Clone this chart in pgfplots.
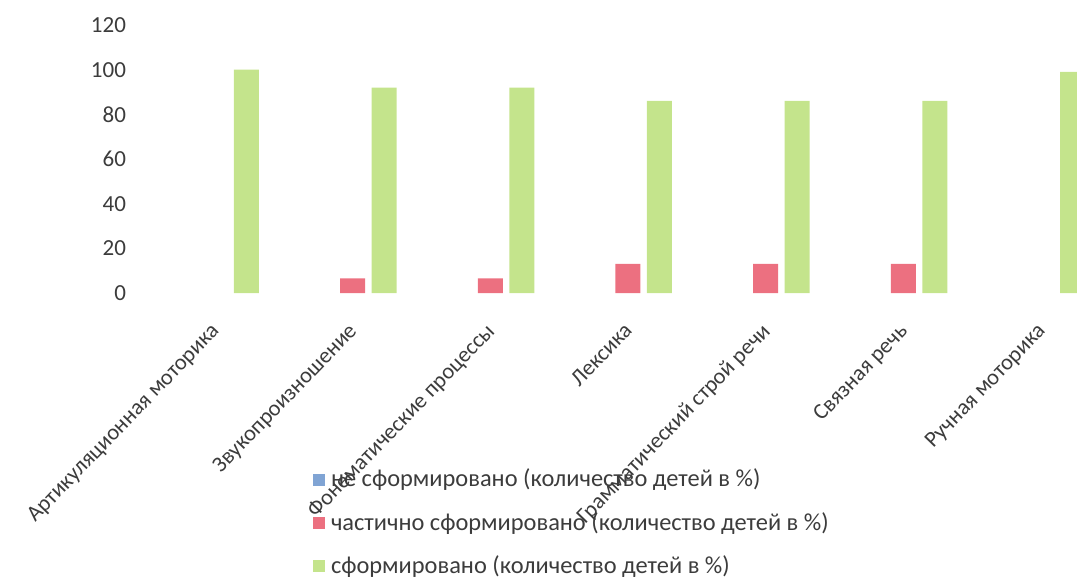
\documentclass[border=0pt]{standalone}
\usepackage{pgfplots}
\pgfplotsset{compat=1.18}
\usepackage{fontspec}
\setmainfont{Carlito}
\definecolor{cblue}{RGB}{128,164,212}
\definecolor{cred}{RGB}{236,112,128}
\definecolor{cgreen}{RGB}{196,228,140}
\definecolor{ctext}{RGB}{60,60,60}
\begin{document}
\fontsize{11.5}{14}\selectfont
\begin{tikzpicture}
  % page frame: 1 px of the reference = 0.5pt, origin at the axis corner
  \path[use as bounding box] (-73pt,-142.5pt) rectangle (465.5pt,146.5pt);
  \begin{axis}[
      at={(0,0)}, anchor=south west,
      x=68.85pt, y=1.1165pt,
      xmin=-0.5, xmax=6.26,
      ymin=0, ymax=120,
      ybar, bar width=12.5pt,
      axis line style={draw=none},
      tick style={draw=none},
      xtick={0,...,6},
      xticklabels={Артикуляционная моторика, Звукопроизношение,
        Фонематические процессы, Лексика, Грамматический строй речи,
        Связная речь, Ручная моторика},
      xticklabel style={rotate=46, anchor=north east, inner sep=1pt,
        xshift=-8pt, yshift=-4pt,
        font=\fontsize{11.2}{14}\selectfont, text=ctext},
      ytick={0,20,...,120},
      yticklabel style={font=\fontsize{11.5}{14}\selectfont, text=ctext,
        xshift=-6pt},
      /pgf/number format/assume math mode=true,
      clip=true,
      legend style={draw=none, fill=none, at={(0.179,-0.64)},
        anchor=north west, legend cell align=left, row sep=7pt,
        font=\fontsize{12.2}{14}\selectfont, text=ctext,
        inner sep=0pt, nodes={inner xsep=3pt}},
      legend image code/.code={
        \fill[#1] (-0.5pt,-3pt) rectangle (5.5pt,3pt);
      },
    ]
    % "не сформировано" is 0 everywhere: no bar is drawn for it
    \addlegendimage{fill=cblue, draw=none}
    \addplot[fill=cred, draw=none, bar shift=0pt,
      y filter/.expression={y==0 ? nan : y}] coordinates {
      (0,0) (1,6.5) (2,6.5) (3,13) (4,13) (5,13) (6,0)};
    \addplot[fill=cgreen, draw=none, bar shift=15.75pt] coordinates {
      (0,100) (1,92) (2,92) (3,86) (4,86) (5,86) (6,99)};
    \legend{не сформировано (количество детей в \%),
      частично сформировано (количество детей в \%),
      сформировано (количество детей в \%)}
  \end{axis}
\end{tikzpicture}
\end{document}
